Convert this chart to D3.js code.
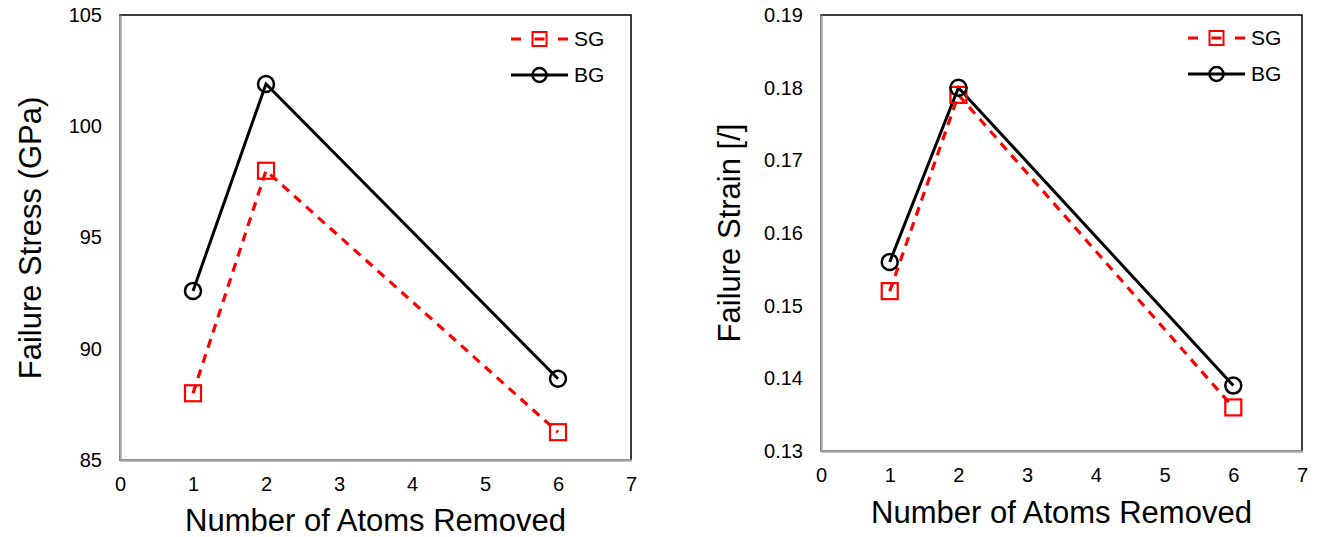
<!DOCTYPE html>
<html>
<head>
<meta charset="utf-8">
<script src="https://cdn.jsdelivr.net/npm/d3@7"></script>
<style>
  body { margin: 0; background: #fff; }
  svg { font-family: "Liberation Sans", Arial, sans-serif; }
</style>
</head>
<body>
<svg id="chart" width="1320" height="537"></svg>
<script>
// data
const atoms = [1, 2, 6];
const stressSG = [88.0, 98.0, 86.25];
const stressBG = [92.6, 101.9, 88.65];
const strainSG = [0.152, 0.179, 0.136];
const strainBG = [0.156, 0.180, 0.139];
const xTicks = [0, 1, 2, 3, 4, 5, 6, 7];
const stressTicks = [85, 90, 95, 100, 105];
const strainTicks = [0.13, 0.14, 0.15, 0.16, 0.17, 0.18, 0.19];
const seriesNames = ['SG', 'BG'];

const svg = d3.select('#chart');

function drawChart(opt) {
  const g = svg.append('g');

  const x = d3.scaleLinear().domain([0, 7]).range([opt.left, opt.right]);
  const y = d3.scaleLinear().domain(opt.yDomain).range([opt.bottom, opt.top]);

  // black frame (top / right)
  g.append('rect')
    .attr('x', opt.left).attr('y', opt.top)
    .attr('width', opt.right - opt.left).attr('height', opt.bottom - opt.top)
    .attr('fill', 'none').attr('stroke', '#000').attr('stroke-width', 1.5);

  // x axis
  const xAxis = g.append('g')
    .attr('transform', `translate(0,${opt.bottom})`)
    .call(d3.axisBottom(x).tickValues(xTicks).tickSize(0).tickPadding(opt.xPad).tickFormat(d3.format('d')));
  xAxis.select('.domain').attr('stroke', '#a6a6a6').attr('stroke-width', 2.5);
  xAxis.selectAll('text').attr('font-size', 20).attr('fill', '#000')
    .attr('font-family', '"Liberation Sans", Arial, sans-serif');

  // y axis
  const yAxis = g.append('g')
    .attr('transform', `translate(${opt.left},0)`)
    .call(d3.axisLeft(y).tickValues(opt.yTicks).tickSize(0).tickPadding(18).tickFormat(opt.fmt));
  yAxis.select('.domain').attr('stroke', '#a6a6a6').attr('stroke-width', 2.5);
  yAxis.selectAll('text').attr('font-size', 20).attr('fill', '#000')
    .attr('font-family', '"Liberation Sans", Arial, sans-serif');

  // axis titles
  g.append('text')
    .attr('x', (opt.left + opt.right) / 2).attr('y', opt.xTitleY)
    .attr('text-anchor', 'middle').attr('font-size', 31)
    .text('Number of Atoms Removed');
  g.append('text')
    .attr('transform', `translate(${opt.yTitleX},${opt.yTitleMid}) rotate(-90)`)
    .attr('text-anchor', 'middle').attr('font-size', 31)
    .text(opt.yTitle);

  const sg = atoms.map((a, i) => ({ x: a, y: opt.sg[i] }));
  const bg = atoms.map((a, i) => ({ x: a, y: opt.bg[i] }));
  const line = d3.line().x(d => x(d.x)).y(d => y(d.y));

  g.append('path').datum(bg).attr('d', line)
    .attr('fill', 'none').attr('stroke', '#000').attr('stroke-width', 3);
  g.append('path').datum(sg).attr('d', line)
    .attr('fill', 'none').attr('stroke', '#ff0000').attr('stroke-width', 3.2)
    .attr('stroke-dasharray', '9,7');

  g.selectAll('.sq').data(sg).enter().append('rect')
    .attr('x', d => x(d.x) - 8).attr('y', d => y(d.y) - 8)
    .attr('width', 16).attr('height', 16)
    .attr('fill', 'none').attr('stroke', '#ff0000').attr('stroke-width', 2.2);
  g.selectAll('.ci').data(bg).enter().append('circle')
    .attr('cx', d => x(d.x)).attr('cy', d => y(d.y)).attr('r', 8)
    .attr('fill', 'none').attr('stroke', '#000').attr('stroke-width', 2.5);

  // legend
  const lg = g.append('g');
  const lx0 = opt.legX, lx1 = opt.legX + 57, mid = opt.legX + 28.5;
  seriesNames.forEach((name, i) => {
    const ly = opt.legY + i * 36;
    if (name === 'SG') {
      lg.append('line').attr('x1', lx0).attr('x2', lx1).attr('y1', ly).attr('y2', ly)
        .attr('stroke', '#ff0000').attr('stroke-width', 3).attr('stroke-dasharray', '10,13.5');
      lg.append('rect').attr('x', mid - 7).attr('y', ly - 7).attr('width', 14).attr('height', 14)
        .attr('fill', 'none').attr('stroke', '#ff0000').attr('stroke-width', 2);
    } else {
      lg.append('line').attr('x1', lx0).attr('x2', lx1).attr('y1', ly).attr('y2', ly)
        .attr('stroke', '#000').attr('stroke-width', 3);
      lg.append('circle').attr('cx', mid).attr('cy', ly).attr('r', 7)
        .attr('fill', 'none').attr('stroke', '#000').attr('stroke-width', 2.5);
    }
    lg.append('text').attr('x', lx1 + 6).attr('y', ly).attr('dy', '0.35em')
      .attr('font-size', 21).text(name);
  });
}

drawChart({
  left: 120, right: 631, top: 15, bottom: 460,
  yDomain: [85, 105], yTicks: stressTicks, fmt: d3.format('d'),
  sg: stressSG, bg: stressBG,
  yTitle: 'Failure Stress (GPa)', yTitleX: 41, yTitleMid: 238,
  xTitleY: 531, xPad: 17,
  legX: 511, legY: 39
});

drawChart({
  left: 821, right: 1302, top: 15, bottom: 451,
  yDomain: [0.13, 0.19], yTicks: strainTicks, fmt: d3.format('.2f'),
  sg: strainSG, bg: strainBG,
  yTitle: 'Failure Strain [/]', yTitleX: 740, yTitleMid: 233,
  xTitleY: 523, xPad: 17,
  legX: 1188, legY: 38
});
</script>
</body>
</html>
